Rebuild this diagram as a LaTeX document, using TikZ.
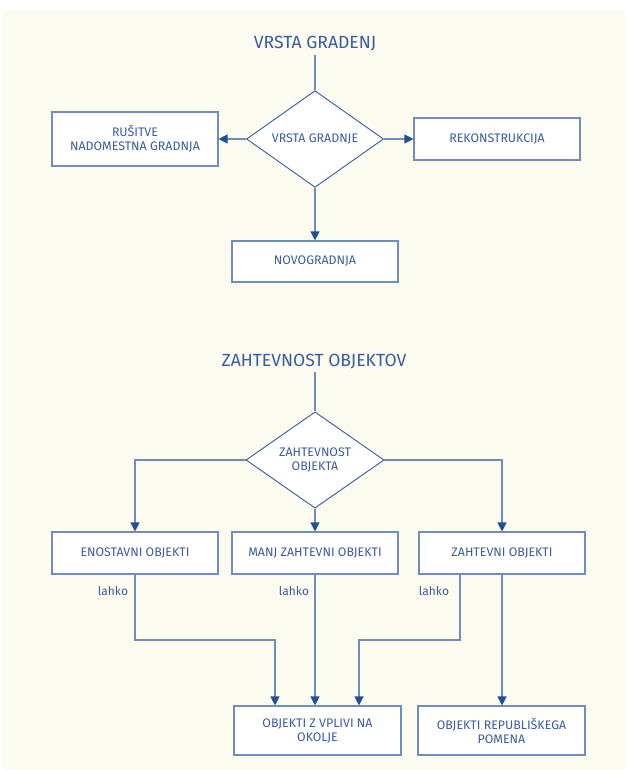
\documentclass[tikz,border=0pt]{standalone}
\usepackage{fontspec}
\setmainfont{Fira Sans}
\usetikzlibrary{shapes.geometric,arrows.meta,calc}
\definecolor{paper}{RGB}{251,251,240}
\definecolor{edge}{RGB}{112,141,190}
\definecolor{tipblue}{RGB}{38,78,152}
\definecolor{ink}{RGB}{58,92,160}
\tikzset{
  box/.style={draw=edge, line width=1.1pt, fill=white, minimum width=166pt,
    inner sep=0pt, align=center, text=ink, font=\fontsize{12.4}{14}\selectfont},
  choice/.style={draw=tipblue!80!edge, line width=0.9pt, fill=white, shape=diamond,
    minimum width=137pt, minimum height=92pt, inner sep=0pt, align=center,
    text=ink, font=\fontsize{12.4}{14}\selectfont},
  heading/.style={text=ink, font=\fontsize{17.6}{19}\selectfont, inner sep=0pt},
  note/.style={text=ink, font=\fontsize{12}{13}\selectfont, inner sep=0pt},
  link/.style={draw=edge, line width=1.1pt},
  flow/.style={link, -{Triangle[length=9pt,width=9pt,color=tipblue]}},
}
\begin{document}
\begin{tikzpicture}[x=1pt,y=-1pt]
  \useasboundingbox (0,0) rectangle (625,771);
  \fill[paper] (3,10) rectangle (625,770);

  % --- upper chart: type of construction
  \node[heading] (t1) at (315,44) {VRSTA GRADENJ};
  \coordinate (t1a) at (315,55);
  \node[choice] (d1) at (315,139) {VRSTA GRADNJE};
  \node[box, minimum height=54pt] (rus) at (135,139) {RUŠITVE\\NADOMESTNA GRADNJA};
  \node[box, minimum height=42pt] (rek) at (497,139) {REKONSTRUKCIJA};
  \node[box, minimum height=41pt] (nov) at (315,261.5) {NOVOGRADNJA};

  \draw[link] (t1a) -- (d1.north);
  \draw[flow] (d1.west) -- (rus.east);
  \draw[flow] (d1.east) -- (rek.west);
  \draw[flow] (d1.south) -- (nov.north);

  % --- lower chart: complexity of objects
  \node[heading] (t2) at (314,362) {ZAHTEVNOST OBJEKTOV};
  \coordinate (t2a) at (315,372);
  \node[choice, minimum width=138pt] (d2) at (315,460) {ZAHTEVNOST\\OBJEKTA};
  \node[box, minimum height=42pt] (eno) at (135,553) {ENOSTAVNI OBJEKTI};
  \node[box, minimum height=42pt] (manj) at (315,553) {MANJ ZAHTEVNI OBJEKTI};
  \node[box, minimum height=42pt] (zah) at (502,553) {ZAHTEVNI OBJEKTI};
  \node[box, minimum width=167pt, minimum height=49pt] (oko) at (317.5,730.5)
    {OBJEKTI Z VPLIVI NA\\OKOLJE};
  \node[box, minimum width=167pt, minimum height=49pt] (rep) at (501.5,730.5)
    {OBJEKTI REPUBLIŠKEGA\\POMENA};

  \draw[link] (t2a) -- (d2.north);
  \draw[flow] (d2.west) -| (eno.north);
  \draw[flow] (d2.south) -- (manj.north);
  \draw[flow] (d2.east) -| (zah.north);

  \coordinate (j1) at (275,640);
  \coordinate (zl) at (460,574);
  \coordinate (j2) at (359,640);
  \coordinate (ml) at (315,574);

  \draw[flow] (eno.south) |- (j1) -- (j1 |- oko.north);
  \draw[flow] (ml) -- (ml |- oko.north);
  \draw[flow] (zl) |- (j2) -- (j2 |- oko.north);
  \draw[flow] (zah.south) -- (zah.south |- rep.north);

  \node[note] (l1) at (113,591) {lahko};
  \node[note] (l2) at (294,591) {lahko};
  \node[note] (l3) at (434,591) {lahko};
\end{tikzpicture}
\end{document}
